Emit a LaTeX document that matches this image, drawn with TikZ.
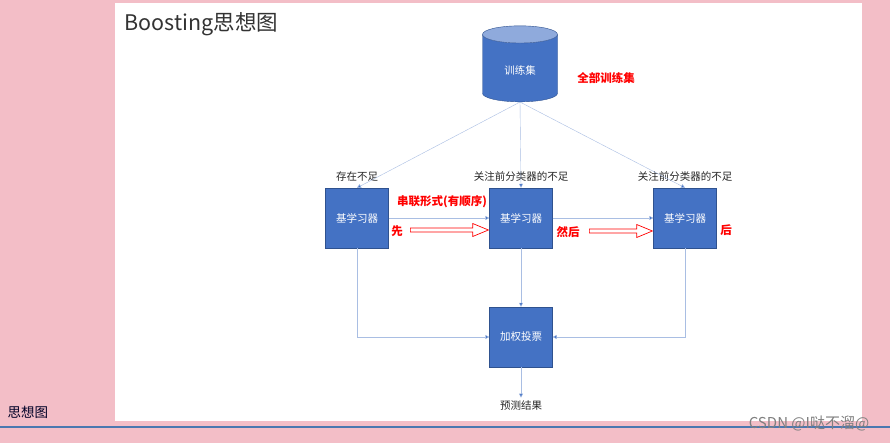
\documentclass[tikz,border=0pt]{standalone}
\usepackage{fontspec}
\setmainfont{Noto Sans CJK SC}
\usepackage{xcolor}
\usetikzlibrary{arrows.meta, positioning, shapes.geometric, shapes.arrows}
\definecolor{boxblue}{HTML}{4472C4}
\definecolor{boxedge}{HTML}{2F528F}
\definecolor{boxlight}{HTML}{8FAADC}
\definecolor{linkblue}{HTML}{A9BEE3}
\definecolor{pagepink}{HTML}{F3BEC7}
\definecolor{ruleblue}{HTML}{4A78B0}
\begin{document}
\begin{tikzpicture}[x=1pt, y=-1pt,
  learner/.style={draw=boxedge, fill=boxblue, minimum width=63pt, minimum height=60pt, text=white, font=\fontsize{10.5}{12}\selectfont},
  flow/.style={draw=linkblue, -{Triangle[length=4pt, width=4pt, fill=boxblue]}},
  note/.style={text=black!85, font=\fontsize{10.5}{12}\selectfont},
  redtext/.style={text=red, font=\fontsize{11.5}{13}\selectfont\bfseries},
  order/.style={single arrow, draw=red, line width=0.7pt, fill=white, anchor=tip,
    inner xsep=0pt, inner ysep=1.6pt, text height=0pt, text depth=0pt,
    single arrow head extend=4.5pt, single arrow tip angle=45}
]
\fill[pagepink] (0,0) rectangle (890,443);
\useasboundingbox (0,0) rectangle (890,443);
\fill[white] (115,3) rectangle (862,421);
\draw[ruleblue, line width=2pt] (0,427) -- (890,427);

\node[anchor=west, text=black!80, font=\fontsize{21.5}{24}\selectfont] (title) at (121,24) {Boosting思想图};

% training set
\node[cylinder, shape border rotate=90, aspect=0.45, minimum width=75pt, minimum height=76pt,
  draw=boxedge, cylinder uses custom fill, cylinder body fill=boxblue, cylinder end fill=boxlight,
  text=white, font=\fontsize{10.5}{12}\selectfont] (data) at (520,70) {训练集};
\node[redtext] (full) at (606,78) {全部训练集};

% base learners
\node[learner] (b1) at (357,218) {基学习器};
\node[learner] (b2) at (521,218) {基学习器};
\node[learner] (b3) at (685,218) {基学习器};
\node[note, above=3pt of b1] (weak) {存在不足};
\node[note, above=3pt of b2] (focus1) {关注前分类器的不足};
\node[note, above=3pt of b3] (focus2) {关注前分类器的不足};

\node[redtext] (serial) at (442,202) {串联形式(有顺序)};
\node[redtext] (first) at (397,231) {先};
\node[redtext] (then) at (568,232) {然后};
\node[redtext] (last) at (726,230) {后};

\node[learner] (vote) at (521,337) {加权投票};
\node[note] (pred) at (521,406) {预测结果};

\draw[flow] (data.south) -- (b1.north);
\draw[flow] (data.south) -- (b2.north);
\draw[flow] (data.south) -- (b3.north);
\draw[flow] (b1) -- (b2);
\draw[flow] (b2) -- (b3);
\draw[flow] (b1.south) |- (vote.west);
\draw[flow] (b2) -- (vote);
\draw[flow] (b3.south) |- (vote.east);
\draw[flow] (vote) -- (pred);

% order arrows
\node[order, minimum height=78pt] (seq1) at ([yshift=1pt]first.east -| b2.west) {};
\node[order, minimum height=63pt] (seq2) at ([yshift=1pt]then.east -| b3.west) {};

\node[anchor=west, text=black!85!blue, font=\fontsize{13.5}{15}\selectfont] (caption) at (4,412) {思想图};
\node[text=black!50, font=\fontsize{15}{17}\selectfont] (stamp) at (809,423) {CSDN @I哒不溜@};
\end{tikzpicture}
\end{document}
